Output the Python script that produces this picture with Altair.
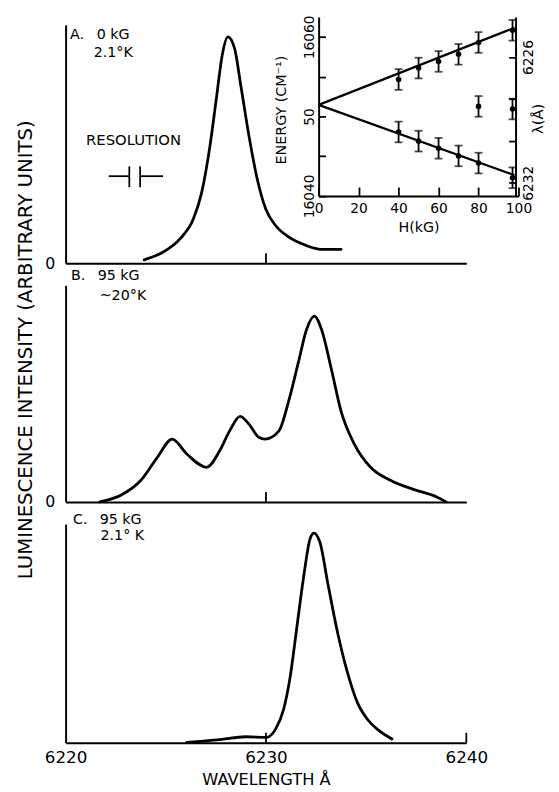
import altair as alt
import pandas as pd

FONT = "DejaVu Sans"

# ---------------- data ----------------
# Panel A: 0 kG, 2.1 K
a_wavelength = [6223.92, 6224.90, 6225.72, 6226.38, 6226.79, 6227.20, 6227.53, 6227.82,
                6228.10, 6228.43, 6228.76, 6229.16, 6229.57, 6229.99, 6230.48, 6231.13,
                6231.95, 6232.77, 6233.75]
a_intensity = [1.4, 4.8, 10.3, 18.6, 29.6, 48.9, 69.5, 87.5, 95.0, 90.2, 73.7, 53.0,
               35.1, 22.7, 15.8, 11.0, 7.6, 5.8, 5.8]

# Panel B: 95 kG, ~20 K
b_wavelength = [6221.70, 6222.78, 6223.76, 6224.58, 6225.32, 6226.05, 6227.04, 6227.69,
                6228.18, 6228.71, 6229.16, 6229.66, 6229.95, 6230.64, 6231.13, 6231.62,
                6232.03, 6232.41, 6232.77, 6233.26, 6233.75, 6234.41, 6235.22, 6236.21,
                6237.36, 6238.50, 6238.99]
b_intensity = [0.0, 3.2, 10.0, 20.6, 29.0, 22.1, 16.0, 23.6, 32.7, 39.5, 35.8, 29.7,
               29.0, 32.7, 46.4, 64.5, 79.7, 85.8, 79.7, 61.5, 41.8, 26.7, 16.0, 10.0,
               5.8, 2.4, 0.0]

# Panel C: 95 kG, 2.1 K
c_wavelength = [6226.05, 6227.69, 6229.00, 6230.01, 6230.48, 6230.88, 6231.21, 6231.54,
                6231.87, 6232.20, 6232.39, 6232.69, 6233.10, 6233.59, 6234.08, 6234.57,
                6235.06, 6235.55, 6236.29]
c_intensity = [0.1, 1.4, 2.7, 2.4, 6.2, 15.2, 30.2, 52.7, 75.2, 93.2, 95.9, 91.8, 72.2,
               49.7, 31.7, 18.2, 10.7, 6.2, 1.7]

# x-axis tick marks (wavelength, Angstrom)
ab_ticks = [6230]
c_ticks = [6230, 6240]
c_tick_labels = [6220, 6230, 6240]

# Inset: Zeeman splitting, energy vs field
h_field = [40, 50, 60, 70, 80, 97]
e_upper = [16054.64, 16056.08, 16056.91, 16057.81, 16059.30, 16060.83]
e_lower = [16048.04, 16046.89, 16045.99, 16045.03, 16044.13, 16042.28]
h_middle = [80, 97]
e_middle = [16051.26, 16050.93]
e_error = 1.3
fit_field = [0, 98]
fit_upper = [16051.45, 16061.15]
fit_lower = [16051.45, 16042.60]
h_ticks = [0, 20, 40, 60, 80, 100]
e_ticks = [16040, 16045, 16050, 16055, 16060]
lambda_ticks = [6226, 6228, 6230, 6232]

# Resolution marker (wavelength units)
resolution_bars = [6223.18, 6223.72]
resolution_arms = [6222.15, 6224.86]

# ---------------- layout ----------------
W, HA, HB, HC = 407, 242, 220, 222
XDOM = [6220, 6240]
LINE = dict(color="black", strokeWidth=2.8, interpolate="monotone", strokeCap="round", strokeJoin="round")
AX = dict(grid=False, domain=True, domainColor="black", domainWidth=2, labelFlush=False,
          labelColor="black", titleColor="black", labelFont=FONT, titleFont=FONT)


def xenc(values, labels=False, title=None):
    return alt.X("wl:Q", scale=alt.Scale(domain=XDOM),
                 axis=alt.Axis(orient="bottom", values=values, labels=labels, format="d",
                               ticks=False, tickSize=0, labelFontSize=17, labelPadding=7,
                               title=title, titleFontSize=16.5, titleY=37.5,
                               titleBaseline="middle", titleFontWeight="normal", **AX))


def yenc(zero_label=True, title=None, **kw):
    return alt.Y("I:Q", scale=alt.Scale(domain=[0, 100]),
                 axis=alt.Axis(orient="left", values=[0], labels=zero_label, ticks=False,
                               tickSize=0, labelPadding=11, labelFontSize=16, title=title,
                               titleFontWeight="normal", **AX, **kw))


def labels(wl, inten, texts, enc_x, enc_y, size=14.5, align="left"):
    df = pd.DataFrame({"wl": wl, "I": inten, "t": texts})
    return alt.Chart(df).mark_text(align=align, baseline="middle", fontSize=size,
                                   font=FONT, color="black").encode(x=enc_x, y=enc_y, text="t:N")


def inward_ticks(values, enc_x, h, length=10):
    return alt.Chart(pd.DataFrame({"wl": values})).mark_rule(color="black", strokeWidth=1.8).encode(
        x=enc_x, y=alt.value(h), y2=alt.value(h - length))


# ---- Panel A ----
xa = xenc(ab_ticks)
ya = yenc(True)
a_df = pd.DataFrame({"wl": a_wavelength, "I": a_intensity})
a_line = alt.Chart(a_df).mark_line(**LINE).encode(x=xa, y=ya)
a_tick = inward_ticks(ab_ticks, xa, HA)
a_txt = labels([6220.22, 6221.55, 6221.40], [95.9, 95.9, 88.1], ["A.", "0 kG", "2.1°K"], xa, ya)
res_txt = labels([6223.39], [51.7], ["RESOLUTION"], xa, ya, size=15, align="center")
res_h = alt.Chart(pd.DataFrame({"wl": resolution_arms, "wl2": resolution_bars, "I": [36.5, 36.5]})) \
    .mark_rule(color="black", strokeWidth=1.8).encode(x=xa, x2="wl2:Q", y=ya)
res_v = alt.Chart(pd.DataFrame({"wl": resolution_bars, "I": [31.9, 31.9], "I2": [40.6, 40.6]})) \
    .mark_rule(color="black", strokeWidth=1.8).encode(x=xa, y=ya, y2="I2:Q")
main_a = alt.layer(a_line, a_tick, a_txt, res_txt, res_h, res_v)

# ---- Inset ----
IX = [257, 460]
IY = [173.7, -8]


def hx():
    return alt.X("H:Q", scale=alt.Scale(domain=[0, 100], range=IX),
                 axis=alt.Axis(orient="bottom", offset=-68.3, values=h_ticks,
                               tickSize=alt.ExprRef(expr="-9"), tickColor="black", tickWidth=1.8,
                               labelPadding=14.6, labelFontSize=14,
                               title="H(kG)", titleFontSize=14.5, titleY=32.3,
                               titleBaseline="middle", titleFontWeight="normal", **AX))


def ey(field="E"):
    return alt.Y(f"{field}:Q", scale=alt.Scale(domain=[16040, 16062.5], range=IY),
                 axis=alt.Axis(orient="left", offset=-257, values=e_ticks, format="d",
                               labelExpr="datum.value == 16050 ? '50' : (datum.value == 16040 || datum.value == 16060 ? datum.label : '')",
                               labelAngle=-90, tickSize=alt.ExprRef(expr="-7"), tickColor="black",
                               tickWidth=1.8, labelPadding=9,
                               labelFontSize=14, title="ENERGY (CM⁻¹)", titleFontSize=14.5,
                               titleAngle=270, titleX=-37.5, titleY=86, titleAlign="center",
                               titleBaseline="middle", titleFontWeight="normal", **AX))


fit_df = pd.DataFrame({"H": fit_field * 2, "E": fit_upper + fit_lower,
                       "branch": ["up", "up", "low", "low"]})
pts_df = pd.DataFrame({"H": h_field + h_field + h_middle,
                       "E": e_upper + e_lower + e_middle})
pts_df["lo"] = pts_df["E"] - e_error
pts_df["hi"] = pts_df["E"] + e_error

fit_lines = alt.Chart(fit_df).mark_line(color="black", strokeWidth=2.2).encode(
    x=hx(), y=ey(), detail="branch:N")
err = alt.Chart(pts_df).mark_rule(color="black", strokeWidth=1.8).encode(
    x=hx(), y=ey("lo"), y2="hi:Q")
cap_lo = alt.Chart(pts_df).mark_tick(color="black", orient="horizontal", size=8, thickness=1.8).encode(
    x=hx(), y=ey("lo"))
cap_hi = alt.Chart(pts_df).mark_tick(color="black", orient="horizontal", size=8, thickness=1.8).encode(
    x=hx(), y=ey("hi"))
pts = alt.Chart(pts_df).mark_circle(color="black", size=32, opacity=1).encode(x=hx(), y=ey())
inset = alt.layer(fit_lines, err, cap_lo, cap_hi, pts)

lam = alt.Chart(pd.DataFrame({"lam": lambda_ticks})).mark_point(opacity=0).encode(
    y=alt.Y("lam:Q", scale=alt.Scale(domain=[6224.09, 6232.63], range=[-8, 173.7]),
            axis=alt.Axis(orient="right", offset=50, values=lambda_ticks, format="d",
                          labelExpr="datum.value == 6226 || datum.value == 6232 ? datum.label : ''",
                          labelAngle=-90, tickSize=alt.ExprRef(expr="-7"), tickColor="black",
                          tickWidth=1.8, labelPadding=13,
                          labelFontSize=14, title="λ(Å)", titleFontSize=15, titleAngle=270,
                          titleX=22.5, titleY=95, titleAlign="center", titleBaseline="middle",
                          titleFontWeight="normal", **AX)))

panel_a = alt.layer(main_a, inset, lam).resolve_scale(
    x="independent", y="independent").properties(width=W, height=HA)

# ---- Panel B ----
xb = xenc(ab_ticks)
yb = yenc(True, title="LUMINESCENCE INTENSITY (ARBITRARY UNITS)",
          titleX=-40.5, titleY=65, titleAngle=270, titleAlign="center",
          titleBaseline="middle", titleFontSize=20)
b_df = pd.DataFrame({"wl": b_wavelength, "I": b_intensity})
b_line = alt.Chart(b_df).mark_line(**LINE).encode(x=xb, y=yb)
b_tick = inward_ticks(ab_ticks, xb, HB)
b_txt = labels([6220.27, 6221.60, 6221.70], [104.1, 104.1, 95.0], ["B.", "95 kG", "~20°K"], xb, yb)
panel_b = alt.layer(b_line, b_tick, b_txt).properties(width=W, height=HB)

# ---- Panel C ----
xc = xenc(c_tick_labels, labels=True, title="WAVELENGTH Å")
yc = yenc(False)
c_df = pd.DataFrame({"wl": c_wavelength, "I": c_intensity})
c_line = alt.Chart(c_df).mark_line(**LINE).encode(x=xc, y=yc)
c_tick = inward_ticks(c_ticks, xc, HC)
c_txt = labels([6220.37, 6221.70, 6221.74], [101.9, 101.9, 94.7], ["C.", "95 kG", "2.1° K"], xc, yc)
panel_c = alt.layer(c_line, c_tick, c_txt).properties(width=W, height=HC)

chart = alt.vconcat(panel_a, panel_b, panel_c, spacing=22.5, bounds="flush").properties(
    padding={"left": 7.5, "top": 0, "right": 5, "bottom": 0},
    background="white"
).configure_axis(
    domainColor="black", domainWidth=2, tickColor="black", tickWidth=1.8,
    labelColor="black", titleColor="black", labelFont=FONT, titleFont=FONT, grid=False
).configure_view(strokeWidth=0, stroke="transparent")

chart.save("out.html", embed_options={"renderer": "svg", "actions": False})
